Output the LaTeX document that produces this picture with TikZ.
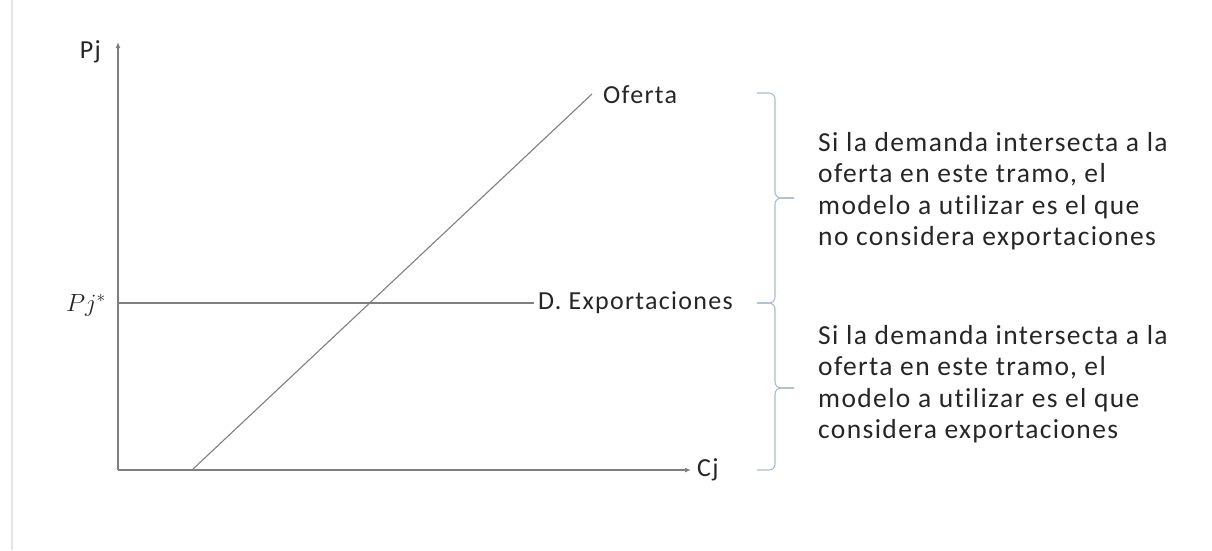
\documentclass[tikz,border=0pt]{standalone}
\usepackage{fontspec}
\setmainfont{Carlito}[Ligatures={NoCommon}, LetterSpace=5]
\usetikzlibrary{arrows.meta}
\definecolor{axisgray}{HTML}{7F7F7F}
\definecolor{bracecol}{HTML}{A9BBD0}
\definecolor{txt}{HTML}{262626}
\definecolor{bordercol}{HTML}{E4E4EE}
\tikzset{
  axis/.style={draw=axisgray, line width=1.6pt, -{Latex[length=6pt,width=5pt]}},
  curve/.style={draw=axisgray, line width=1.1pt},
  lbl/.style={text=txt, font=\fontsize{26}{30}\selectfont, inner sep=0pt},
  note/.style={text=txt, font=\fontsize{27.5}{31.5}\selectfont, align=left, inner sep=0pt, anchor=north west},
  bracket/.style={draw=bracecol, line width=1.1pt, rounded corners=6pt}
}
\begin{document}
\begin{tikzpicture}[x=1pt,y=-1pt]
\useasboundingbox (0,0) rectangle (1212,550);
\fill[bordercol] (11,0) rectangle (13,550);
% axes
\coordinate (O) at (118,470);
\coordinate (ytip) at (118,42);
\coordinate (xtip) at (691,470);
\draw[axis] (O) -- (ytip);
\draw[axis] (O) -- (xtip);
\node[lbl, anchor=east] (pj) at (101,52) {Pj};
\node[lbl, anchor=west] (cj) at (697,470) {Cj};
\node[text=txt, font=\fontsize{24}{28}\selectfont, inner sep=0pt, anchor=east] (pjs) at (106,305) {$Pj^{*}$};
% export demand
\node[lbl, anchor=west, inner xsep=4pt] (dexp) at (534,303) {D. Exportaciones};
\coordinate (h0) at (118,303);
\draw[curve] (h0) -- (dexp.west);
% supply
\coordinate (s0) at (192,470);
\node[lbl, anchor=west] (of) at (603,95) {Oferta};
\coordinate (s1) at (592,94);
\draw[curve] (s0) -- (s1);
% braces
\coordinate (b1) at (757,93);
\coordinate (b2) at (757,303);
\coordinate (b3) at (757,470);
\coordinate (t1) at (794,198);
\coordinate (t2) at (794,388);
\draw[bracket] (b1) -- (775,93) -- (775,198) -- (t1);
\draw[bracket] (t1) -- (775,198) -- (775,303) -- (b2);
\draw[bracket] (b2) -- (775,303) -- (775,388) -- (t2);
\draw[bracket] (t2) -- (775,388) -- (775,470) -- (b3);
% notes
\node[note] (n1) at (818,132) {Si la demanda intersecta a la\\oferta en este tramo, el\\modelo a utilizar es el que\\no considera exportaciones};
\node[note] (n2) at (818,325) {Si la demanda intersecta a la\\oferta en este tramo, el\\modelo a utilizar es el que\\considera exportaciones};
\end{tikzpicture}
\end{document}
